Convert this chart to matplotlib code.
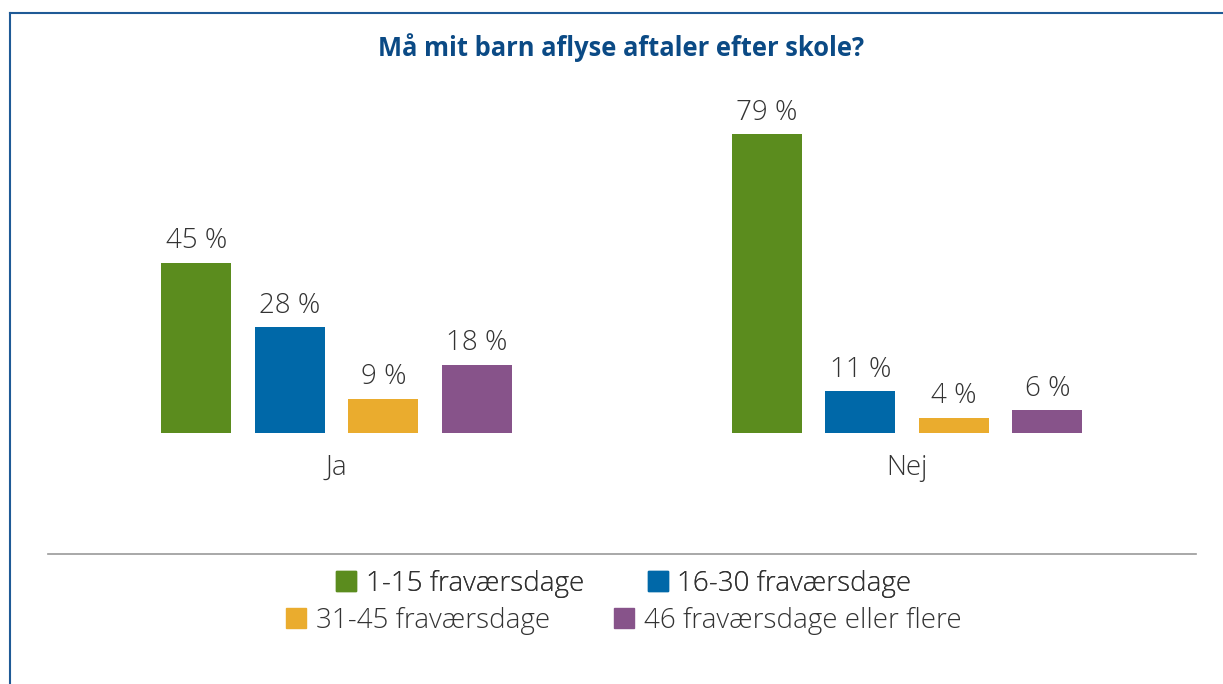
import numpy as np
import matplotlib.pyplot as plt
from matplotlib.patches import Patch
from matplotlib.lines import Line2D

plt.rcParams['font.family'] = ['Open Sans', 'DejaVu Sans']

categories = ["Ja", "Nej"]
series = ["1-15 fraværsdage", "16-30 fraværsdage",
          "31-45 fraværsdage", "46 fraværsdage eller flere"]
values = [[45, 79],   # 1-15
          [28, 11],   # 16-30
          [9, 4],     # 31-45
          [18, 6]]    # 46+
colors = ["#5b8c1e", "#0068a8", "#eaac2e", "#87538a"]

fig = plt.figure(figsize=(12.23, 6.84), dpi=100)
ax = fig.add_axes([0.0419, 0.367, 0.933, 0.5526])

x = np.arange(len(categories))
pitch = 0.164
width = 0.1227
for i, (name, vals) in enumerate(zip(series, values)):
    pos = x + (i - 1.5) * pitch
    bars = ax.bar(pos, vals, width, color=colors[i], label=name)
    for b, v in zip(bars, vals):
        ax.text(b.get_x() + b.get_width() / 2, v + 2.0, f"{v} %",
                ha="center", va="bottom", fontsize=20, color="#333333",
                fontweight="light")

ax.set_xlim(-0.5, 1.5)
ax.set_ylim(0, 100)
ax.set_xticks(x)
ax.set_xticklabels(categories, fontsize=20, color="#333333", fontweight="light")
ax.tick_params(axis="x", length=0, pad=15)
ax.set_yticks([])
for s in ax.spines.values():
    s.set_visible(False)

fig.text(621.5 / 1223, 1 - 48 / 684, "Må mit barn aflyse aftaler efter skole?",
         ha="center", va="center", fontsize=18.4, fontweight="bold",
         color="#0b4a85")

# frame lines and separator
fig.add_artist(Line2D([10 / 1223, 10 / 1223], [0, 1 - 13 / 684],
                      color="#1f5a96", lw=1.5))
fig.add_artist(Line2D([10 / 1223, 1], [1 - 13 / 684, 1 - 13 / 684],
                      color="#1f5a96", lw=1.5))
fig.add_artist(Line2D([48 / 1223, 1196 / 1223], [1 - 554 / 684, 1 - 554 / 684],
                      color="#999999", lw=1.2))

handles = [Patch(color=c) for c in colors]
kw = dict(ncol=2, frameon=False, handlelength=0.72,
          handleheight=0.72, handletextpad=0.35, columnspacing=2.3,
          labelcolor="#333333", prop=dict(size=20, weight="light"))
leg1 = fig.legend(handles[:2], series[:2], loc="center",
                  bbox_to_anchor=(0.51, 1 - 584 / 684), **kw)
fig.add_artist(leg1)
fig.legend(handles[2:], series[2:], loc="center",
           bbox_to_anchor=(0.51, 1 - 621 / 684), **kw)

fig.savefig("out.png", dpi=100)
